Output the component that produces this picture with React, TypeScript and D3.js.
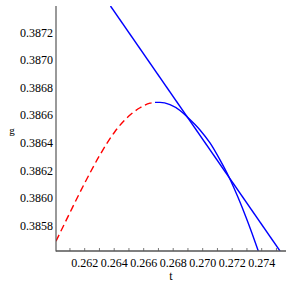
import { useEffect, useRef } from "react";
import * as d3 from "d3";

// red dashed part of the curve (t, g)
const redT = [0.260054, 0.261003, 0.26202, 0.263037, 0.264054, 0.265071, 0.265749, 0.266427, 0.266766];
const redG = [0.385689, 0.385897, 0.386114, 0.386315, 0.386484, 0.386603, 0.386656, 0.386689, 0.386695];

// blue solid part of the curve
const blueT = [
    0.266766, 0.267105, 0.267783, 0.268461, 0.268956, 0.269817, 0.270495, 0.271173, 0.271803, 0.272393,
    0.272936, 0.273342, 0.273769,
];
const blueG = [
    0.386695, 0.386695, 0.386678, 0.386636, 0.386589, 0.386495, 0.386401, 0.386278, 0.386149, 0.386007,
    0.385863, 0.385747, 0.385618,
];

// straight line
const lineT = [0.263749, 0.275241];
const lineG = [0.387393, 0.385618];

const xTicks = [0.262, 0.264, 0.266, 0.268, 0.27, 0.272, 0.274];
const xMinor = [0.261, 0.262, 0.263, 0.264, 0.265, 0.266, 0.267, 0.268, 0.269, 0.27, 0.271, 0.272, 0.273, 0.274, 0.275];
const yTicks = [0.3858, 0.386, 0.3862, 0.3864, 0.3866, 0.3868, 0.387, 0.3872];

export default function App() {
    const svgRef = useRef<SVGSVGElement>(null);

    useEffect(() => {
        if (!svgRef.current) return;
        const svg = d3.select(svgRef.current);
        svg.selectAll("*").remove();

        const left = 56, right = 286, top = 6, bottom = 251;

        const x = d3.scaleLinear().domain([0.260054, 0.275648]).range([left, right]);
        const y = d3.scaleLinear().domain([0.385618, 0.387393]).range([bottom, top]);

        svg.append("defs")
            .append("clipPath")
            .attr("id", "plot")
            .append("rect")
            .attr("x", left)
            .attr("y", top)
            .attr("width", right - left)
            .attr("height", bottom - top);

        const line = d3
            .line<[number, number]>()
            .x((d) => x(d[0]))
            .y((d) => y(d[1]))
            .curve(d3.curveMonotoneX);

        const g = svg.append("g").attr("clip-path", "url(#plot)");

        g.append("path")
            .attr("d", line(redT.map((t, i) => [t, redG[i]]))!)
            .attr("fill", "none")
            .attr("stroke", "#ff0000")
            .attr("stroke-width", 1.4)
            .attr("stroke-dasharray", "7,4");

        g.append("path")
            .attr("d", line(blueT.map((t, i) => [t, blueG[i]]))!)
            .attr("fill", "none")
            .attr("stroke", "#0000ff")
            .attr("stroke-width", 1.4);

        g.append("path")
            .attr("d", d3.line<[number, number]>().x((d) => x(d[0])).y((d) => y(d[1]))(lineT.map((t, i) => [t, lineG[i]]))!)
            .attr("fill", "none")
            .attr("stroke", "#0000ff")
            .attr("stroke-width", 1.4);

        const axisColor = "#555";

        // axes lines
        svg.append("line")
            .attr("x1", left).attr("x2", left).attr("y1", top).attr("y2", bottom + 0.5)
            .attr("stroke", axisColor).attr("stroke-width", 1.2);
        svg.append("line")
            .attr("x1", left).attr("x2", right).attr("y1", bottom).attr("y2", bottom)
            .attr("stroke", axisColor).attr("stroke-width", 1.6);

        // x ticks (inside, pointing up)
        svg.append("g")
            .selectAll("line")
            .data(xMinor)
            .enter()
            .append("line")
            .attr("x1", (d) => x(d)).attr("x2", (d) => x(d))
            .attr("y1", bottom).attr("y2", bottom - 3)
            .attr("stroke", axisColor).attr("stroke-width", 0.8);

        svg.append("g")
            .selectAll("text")
            .data(xTicks)
            .enter()
            .append("text")
            .attr("x", (d) => x(d))
            .attr("y", 267)
            .attr("text-anchor", "middle")
            .attr("font-size", 12)
            .attr("fill", "#000")
            .text((d) => d3.format(".3f")(d));

        svg.append("g")
            .selectAll("text")
            .data(yTicks)
            .enter()
            .append("text")
            .attr("x", 53)
            .attr("y", (d) => y(d) + 4)
            .attr("text-anchor", "end")
            .attr("font-size", 12)
            .attr("fill", "#000")
            .text((d) => d3.format(".4f")(d));

        svg.append("text")
            .attr("x", 171).attr("y", 280)
            .attr("text-anchor", "middle")
            .attr("font-size", 12)
            .text("t");

        svg.append("text")
            .attr("x", 12).attr("y", 134)
            .attr("text-anchor", "middle")
            .attr("font-size", 11)
            .text("g");
    }, []);

    return (
        <svg
            ref={svgRef}
            width={293}
            height={287}
            style={{
                position: "absolute",
                left: 0,
                top: 0,
                background: "#fff",
                fontFamily: "'Liberation Serif', 'Times New Roman', Times, serif",
            }}
        />
    );
}
